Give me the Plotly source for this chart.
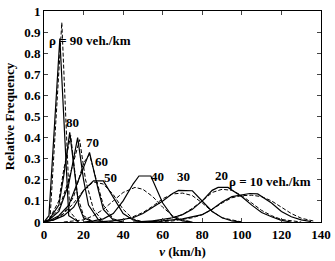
import plotly.graph_objects as go

# ---- data: solid = measured, dashed = model (relative frequency vs speed km/h)
densities = [90, 80, 70, 60, 50, 40, 30, 20, 10]

solid_v = {
    90: [0, 2.5, 8, 12.5, 17.5],
    80: [0, 2.5, 7.5, 10, 13, 17.5, 20, 25],
    70: [0, 2.5, 7.5, 12.5, 17, 20, 22.5, 27.5, 30],
    60: [0, 2.5, 7.5, 12.5, 17.5, 23, 27.5, 30, 35, 40],
    50: [0, 5, 10, 15, 20, 25, 30, 35, 40, 45, 50],
    40: [20, 25, 30, 35, 40, 45, 48, 54, 60, 65, 70, 75],
    30: [25, 35, 45, 50, 55, 60, 65, 68, 75, 80, 85, 90, 95, 100],
    20: [45, 55, 65, 70, 75, 80, 85, 88, 93, 100, 105, 110, 115, 120, 125],
    10: [50, 60, 70, 80, 85, 90, 95, 100, 104, 108, 115, 120, 125, 130, 135],
}
solid_f = {
    90: [0, 0.03, 0.87, 0.03, 0],
    80: [0, 0.01, 0.08, 0.22, 0.425, 0.08, 0.02, 0],
    70: [0, 0.01, 0.05, 0.18, 0.40, 0.2, 0.08, 0.01, 0],
    60: [0, 0.005, 0.03, 0.08, 0.2, 0.33, 0.15, 0.06, 0.01, 0],
    50: [0, 0.01, 0.03, 0.07, 0.15, 0.195, 0.195, 0.12, 0.04, 0.01, 0],
    40: [0, 0.005, 0.015, 0.04, 0.1, 0.18, 0.218, 0.218, 0.09, 0.025, 0.005, 0],
    30: [0, 0.005, 0.02, 0.04, 0.07, 0.1, 0.135, 0.15, 0.148, 0.1, 0.05, 0.02, 0.005, 0],
    20: [0, 0.005, 0.02, 0.035, 0.06, 0.1, 0.15, 0.164, 0.164, 0.12, 0.08, 0.045, 0.025, 0.008, 0],
    10: [0, 0.005, 0.015, 0.035, 0.06, 0.095, 0.12, 0.13, 0.135, 0.133, 0.09, 0.05, 0.025, 0.01, 0.002],
}
dashed_v = {
    90: [0, 3, 9, 13, 17.5],
    80: [0, 2.5, 7.5, 10, 13.5, 17, 20, 25],
    70: [0, 2.5, 7.5, 12.5, 18, 21, 25, 30],
    60: [0, 5, 10, 15, 20, 23, 27, 30, 35, 40],
    50: [0, 5, 10, 15, 20, 25, 30, 35, 40, 45, 50],
    40: [10, 20, 25, 30, 35, 40, 46, 50, 55, 60, 65, 70, 75],
    30: [30, 40, 45, 50, 55, 60, 65, 70, 75, 80, 85, 90, 100],
    20: [50, 60, 65, 70, 75, 80, 85, 90, 95, 100, 105, 110, 115, 120, 130],
    10: [55, 65, 75, 80, 85, 90, 95, 100, 105, 110, 115, 120, 125, 130, 137],
}
dashed_f = {
    90: [0, 0.01, 0.945, 0.05, 0],
    80: [0, 0.01, 0.1, 0.25, 0.41, 0.12, 0.03, 0],
    70: [0, 0.01, 0.06, 0.2, 0.39, 0.2, 0.06, 0],
    60: [0, 0.01, 0.04, 0.12, 0.28, 0.32, 0.18, 0.08, 0.015, 0],
    50: [0, 0.01, 0.04, 0.09, 0.15, 0.19, 0.18, 0.13, 0.06, 0.015, 0],
    40: [0, 0.01, 0.03, 0.06, 0.1, 0.14, 0.164, 0.155, 0.12, 0.07, 0.03, 0.01, 0],
    30: [0, 0.01, 0.025, 0.045, 0.075, 0.11, 0.133, 0.137, 0.125, 0.09, 0.05, 0.02, 0],
    20: [0, 0.008, 0.02, 0.035, 0.065, 0.1, 0.14, 0.155, 0.15, 0.125, 0.09, 0.055, 0.03, 0.012, 0],
    10: [0, 0.005, 0.02, 0.035, 0.06, 0.09, 0.115, 0.125, 0.127, 0.12, 0.1, 0.07, 0.04, 0.018, 0.003],
}

# curve labels: text, x, y, anchor
label_text = ["\u03c1 = 90 veh./km", "80", "70", "60", "50", "40", "30", "20", "\u03c1 = 10 veh./km"]
label_x = [1.5, 14.5, 24.6, 29.2, 33.5, 57.5, 70.7, 89.8, 92.5]
label_y = [0.86, 0.472, 0.379, 0.289, 0.212, 0.214, 0.214, 0.222, 0.19]
label_anchor = ["left", "center", "center", "center", "center", "center", "center", "center", "left"]

x_ticks = [0, 20, 40, 60, 80, 100, 120, 140]
y_ticks = [0, 0.1, 0.2, 0.3, 0.4, 0.5, 0.6, 0.7, 0.8, 0.9, 1.0]
y_ticktext = ["0", "0.1", "0.2", "0.3", "0.4", "0.5", "0.6", "0.7", "0.8", "0.9", "1"]

FONT = "Liberation Serif"
TXT = dict(family=FONT, size=13, color="black", weight="bold")

fig = go.Figure()
for d in densities:
    fig.add_trace(go.Scatter(x=solid_v[d], y=solid_f[d], mode="lines",
                             line=dict(color="black", width=1.2), showlegend=False))
    fig.add_trace(go.Scatter(x=dashed_v[d], y=dashed_f[d], mode="lines",
                             line=dict(color="black", width=1, dash="4px,2px"), showlegend=False))

for t, x, y, a in zip(label_text, label_x, label_y, label_anchor):
    fig.add_annotation(x=x, y=y, text=t, showarrow=False, xanchor=a, yanchor="middle",
                       font=TXT)

fig.update_layout(
    width=335, height=261,
    margin=dict(l=44, r=14, t=11, b=39),
    plot_bgcolor="white", paper_bgcolor="white",
    font=TXT,
)
fig.update_xaxes(range=[0, 140], tickvals=x_ticks, ticks="inside", ticklen=4,
                 showline=True, linecolor="black", linewidth=1, mirror="ticks",
                 showgrid=False, zeroline=False, automargin=False,
                 title=dict(text="<i>v</i> (km/h)", standoff=6, font=TXT),
                 tickfont=TXT)
fig.update_yaxes(range=[0, 1], tickvals=y_ticks, ticktext=y_ticktext, ticks="inside", ticklen=4,
                 showline=True, linecolor="black", linewidth=1, mirror="ticks",
                 showgrid=False, zeroline=False, automargin=False,
                 title=dict(text="Relative Frequency", standoff=6, font=TXT),
                 tickfont=TXT)

fig.write_html("out.html", config={"displayModeBar": False},
               post_script="document.body.style.margin='0';")
